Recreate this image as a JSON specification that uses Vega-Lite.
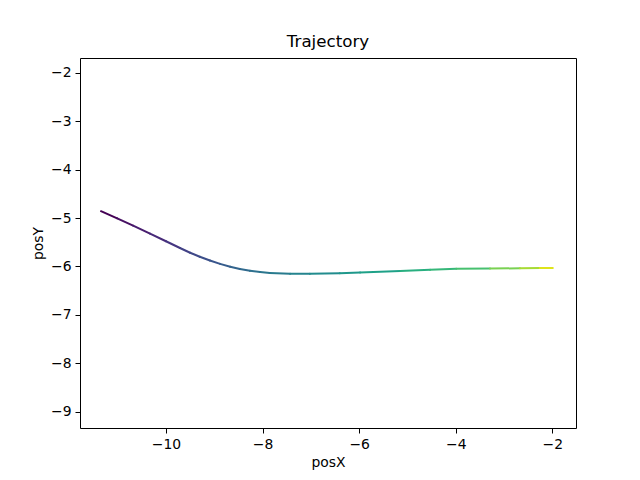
{
  "$schema": "https://vega.github.io/schema/vega-lite/v6.json",
  "autosize": {"type": "none"},
  "width": 496,
  "height": 370,
  "padding": {"left": 80, "top": 58, "right": 64, "bottom": 52},
  "background": "white",
  "title": {"text": "Trajectory", "fontSize": 16.7, "font": "DejaVu Sans", "fontWeight": "normal", "color": "black", "anchor": "middle", "offset": 7},
  "data": {"values": [
    {"t": 0.000, "x": -11.346, "y": -4.857},
    {"t": 0.038, "x": -11.01, "y": -5.005},
    {"t": 0.077, "x": -10.68, "y": -5.157},
    {"t": 0.118, "x": -10.33, "y": -5.321},
    {"t": 0.156, "x": -10.00, "y": -5.479},
    {"t": 0.190, "x": -9.71, "y": -5.618},
    {"t": 0.214, "x": -9.50, "y": -5.716},
    {"t": 0.238, "x": -9.30, "y": -5.800},
    {"t": 0.263, "x": -9.09, "y": -5.878},
    {"t": 0.289, "x": -8.88, "y": -5.946},
    {"t": 0.315, "x": -8.67, "y": -6.006},
    {"t": 0.340, "x": -8.47, "y": -6.052},
    {"t": 0.366, "x": -8.26, "y": -6.090},
    {"t": 0.392, "x": -8.05, "y": -6.116},
    {"t": 0.412, "x": -7.85, "y": -6.135},
    {"t": 0.447, "x": -7.43, "y": -6.152},
    {"t": 0.482, "x": -7.02, "y": -6.152},
    {"t": 0.535, "x": -6.40, "y": -6.140},
    {"t": 0.570, "x": -5.98, "y": -6.125},
    {"t": 0.630, "x": -5.15, "y": -6.093},
    {"t": 0.668, "x": -4.53, "y": -6.070},
    {"t": 0.707, "x": -3.99, "y": -6.048},
    {"t": 0.798, "x": -3.29, "y": -6.044},
    {"t": 0.870, "x": -2.67, "y": -6.037},
    {"t": 0.950, "x": -2.26, "y": -6.034},
    {"t": 1.000, "x": -1.99, "y": -6.033}
  ]},
  "transform": [
    {"window": [{"op": "lead", "field": "x", "as": "x2"}, {"op": "lead", "field": "y", "as": "y2"}], "sort": [{"field": "t"}]},
    {"filter": "datum.x2 != null"}
  ],
  "mark": {"type": "rule", "strokeWidth": 2, "strokeCap": "round"},
  "encoding": {
    "x": {"field": "x", "type": "quantitative", "scale": {"domain": [-11.78, -1.51], "nice": false, "zero": false},
      "axis": {"title": "posX", "values": [-10, -8, -6, -4, -2], "grid": false}},
    "x2": {"field": "x2"},
    "y": {"field": "y", "type": "quantitative", "scale": {"domain": [-9.34, -1.69], "nice": false, "zero": false},
      "axis": {"title": "posY", "values": [-9, -8, -7, -6, -5, -4, -3, -2], "grid": false}},
    "y2": {"field": "y2"},
    "color": {"field": "t", "type": "quantitative", "scale": {"scheme": "viridis", "domain": [0, 1]}, "legend": null}
  },
  "config": {
    "font": "DejaVu Sans",
    "view": {"stroke": "black", "strokeWidth": 1},
    "axis": {
      "domain": false,
      "tickColor": "black", "tickSize": 5, "tickWidth": 1,
      "labelColor": "black", "labelFontSize": 13.9, "labelFont": "DejaVu Sans", "labelPadding": 4,
      "titleColor": "black", "titleFontSize": 13.9, "titleFont": "DejaVu Sans", "titleFontWeight": "normal", "titlePadding": 5
    }
  }
}
